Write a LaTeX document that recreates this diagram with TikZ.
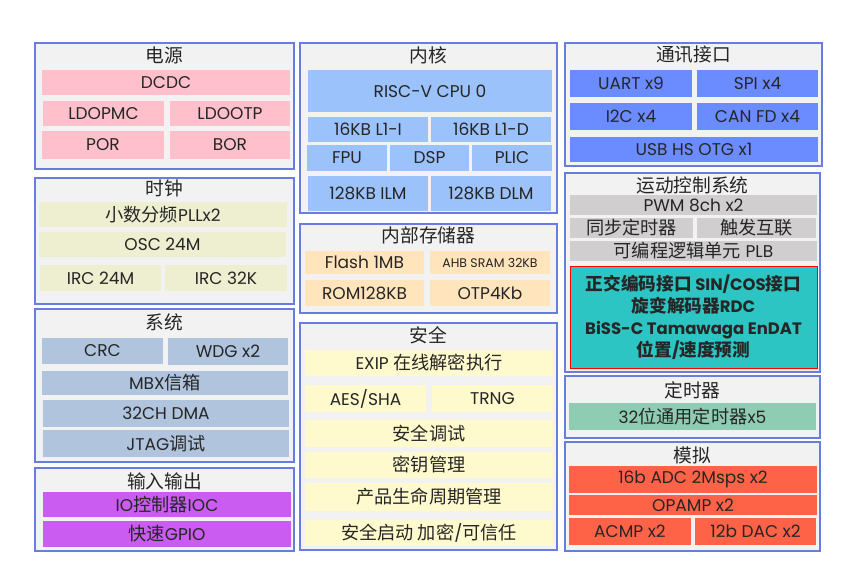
\documentclass[tikz,border=0pt]{standalone}
\usepackage{fontspec}
\setmainfont{Poppins}
\newfontfamily\cjk[Scale=1.07]{Noto Sans CJK SC}
\definecolor{panelbg}{RGB}{242,242,242}
\definecolor{panelbd}{RGB}{105,125,225}
\definecolor{cpink}{RGB}{255,192,203}
\definecolor{ccore}{RGB}{155,194,250}
\definecolor{ccomm}{RGB}{107,140,255}
\definecolor{cclk}{RGB}{238,238,209}
\definecolor{cmem}{RGB}{255,228,188}
\definecolor{csys}{RGB}{176,196,222}
\definecolor{csec}{RGB}{255,250,205}
\definecolor{cio}{RGB}{202,92,242}
\definecolor{cmot}{RGB}{208,206,206}
\definecolor{cteal}{RGB}{45,196,196}
\definecolor{ctim}{RGB}{143,204,180}
\definecolor{cana}{RGB}{255,99,71}
\tikzset{
  panel/.style={draw=panelbd, line width=1.2pt, fill=panelbg, inner sep=0pt, outer sep=0pt},
  cell/.style={inner sep=0pt, outer sep=0pt, text=black!85, font=\fontsize{17}{19}\selectfont},
  ttl/.style={inner sep=0pt, text=black!85, font=\fontsize{17.5}{19}\selectfont}
}
% name, x1, y1, x2, y2, colour, text
\newcommand\mkcell[7]{\node[cell, fill=#6, minimum width={(#4-#2)*1pt}, minimum height={(#5-#3)*1pt}] (#1) at ({(#2+#4)/2},{(#3+#5)/2}) {#7};}
% name, x1, y1, x2, y2, title y, title
\newcommand\mkpanel[7]{\node[panel, minimum width={(#4-#2)*1pt}, minimum height={(#5-#3)*1pt}] (#1) at ({(#2+#4)/2},{(#3+#5)/2}) {};
  \node[ttl] (#1t) at ({(#2+#4)/2},#6) {#7};}
\begin{document}
\begin{tikzpicture}[x=1pt,y=-1pt]
\useasboundingbox (0,0) rectangle (851,577);
\fill[white] (0,0) rectangle (851,577);
% ---------------- left column
\mkpanel{pwr}{35}{43}{294}{169}{55}{\cjk 电源}
\mkcell{dcdc}{42}{70}{290}{95}{cpink}{DCDC}
\mkcell{ldopmc}{43}{101}{164}{126}{cpink}{LDOPMC}
\mkcell{ldootp}{170}{101}{290}{126}{cpink}{LDOOTP}
\mkcell{por}{42}{131}{164}{159}{cpink}{POR}
\mkcell{bor}{170}{131}{290}{159}{cpink}{BOR}

\mkpanel{clk}{35}{178}{294}{304}{188}{\cjk 时钟}
\mkcell{pll}{39}{202}{287}{227}{cclk}{{\cjk 小数分频}PLLx2}
\mkcell{osc}{39}{232}{286}{257}{cclk}{OSC 24M}
\mkcell{irc24}{40}{265}{161}{291}{cclk}{IRC 24M}
\mkcell{irc32}{165}{265}{287}{291}{cclk}{IRC 32K}

\mkpanel{sys}{35}{309}{294}{462}{322}{\cjk 系统}
\mkcell{crc}{42}{338}{163}{364}{csys}{CRC}
\mkcell{wdg}{168}{338}{288}{365}{csys}{WDG x2}
\mkcell{mbx}{42}{371}{288}{395}{csys}{MBX{\cjk 信箱}}
\mkcell{dma}{43}{400}{289}{427}{csys}{32CH DMA}
\mkcell{jtag}{43}{430}{289}{457}{csys}{JTAG{\cjk 调试}}

\mkpanel{io}{35}{468}{294}{551}{481}{\cjk 输入输出}
\mkcell{ioc}{43}{492}{291}{517}{cio}{IO{\cjk 控制器}IOC}
\mkcell{gpio}{43}{521}{291}{547}{cio}{{\cjk 快速}GPIO}
% ---------------- middle column
\mkpanel{core}{300}{43}{557}{213}{55}{\cjk 内核}
\mkcell{cpu}{308}{70}{552}{112}{ccore}{RISC-V CPU 0}
\mkcell{l1i}{308}{117}{428}{142}{ccore}{16KB L1-I}
\mkcell{l1d}{431}{117}{551}{142}{ccore}{16KB L1-D}
\mkcell{fpu}{307}{145}{387}{171}{ccore}{FPU}
\mkcell{dsp}{390}{145}{469}{171}{ccore}{DSP}
\mkcell{plic}{472}{145}{552}{171}{ccore}{PLIC}
\mkcell{ilm}{308}{176}{428}{211}{ccore}{128KB ILM}
\mkcell{dlm}{431}{176}{551}{211}{ccore}{128KB DLM}

\mkpanel{mem}{300}{224}{557}{313}{235}{\cjk 内部存储器}
\mkcell{flash}{305}{251}{424}{274}{cmem}{Flash 1MB}
\mkcell{sram}{430}{251}{550}{274}{cmem}{\fontsize{12.5}{14}\selectfont AHB SRAM 32KB}
\mkcell{rom}{305}{280}{424}{306}{cmem}{ROM128KB}
\mkcell{otp}{430}{280}{550}{306}{cmem}{OTP4Kb}

\mkpanel{sec}{300}{323}{557}{550}{335}{\cjk 安全}
\mkcell{exip}{305}{350}{553}{376}{csec}{EXIP {\cjk 在线解密执行}}
\mkcell{aes}{305}{385}{426}{412}{csec}{AES/SHA}
\mkcell{trng}{432}{385}{553}{412}{csec}{TRNG}
\mkcell{sdbg}{305}{420}{553}{447}{csec}{\cjk 安全调试}
\mkcell{key}{305}{452}{553}{478}{csec}{\cjk 密钥管理}
\mkcell{life}{305}{483}{553}{511}{csec}{\cjk 产品生命周期管理}
\mkcell{boot}{305}{520}{553}{546}{csec}{{\cjk 安全启动 加密}/{\cjk 可信任}}
% ---------------- right column
\mkpanel{comm}{565}{43}{822}{166}{55}{\cjk 通讯接口}
\mkcell{uart}{570}{70}{692}{97}{ccomm}{UART x9}
\mkcell{spi}{697}{70}{818}{97}{ccomm}{SPI x4}
\mkcell{iic}{570}{103}{692}{130}{ccomm}{I2C x4}
\mkcell{can}{697}{103}{818}{130}{ccomm}{CAN FD x4}
\mkcell{usb}{570}{137}{818}{162}{ccomm}{USB HS OTG x1}

\mkpanel{mot}{565}{173}{820}{372}{185}{\cjk 运动控制系统}
\mkcell{pwm}{570}{195}{817}{215}{cmot}{PWM 8ch x2}
\mkcell{sync}{570}{218}{693}{238}{cmot}{\cjk 同步定时器}
\mkcell{trig}{697}{218}{816}{238}{cmot}{\cjk 触发互联}
\mkcell{plb}{570}{241}{817}{261}{cmot}{{\cjk 可编程逻辑单元} PLB}
\node[cell, fill=cteal, draw=red, line width=1pt, minimum width=247pt, minimum height=101pt, align=center,
  font=\fontsize{16.5}{22}\selectfont\bfseries] (enc) at (693.5,317.5)
  {{\cjk\bfseries 正交编码接口} SIN/COS{\cjk\bfseries 接口}\\{\cjk\bfseries 旋变解码器}RDC\\BiSS-C Tamawaga EnDAT\\{\cjk\bfseries 位置}/{\cjk\bfseries 速度预测}};

\mkpanel{tim}{565}{376}{820}{438}{390}{\cjk 定时器}
\mkcell{gpt}{569}{403}{816}{430}{ctim}{32{\cjk 位通用定时器}x5}

\mkpanel{ana}{565}{442}{820}{551}{455}{\cjk 模拟}
\mkcell{adc}{569}{466}{817}{493}{cana}{16b ADC 2Msps x2}
\mkcell{opamp}{569}{495}{817}{515}{cana}{OPAMP x2}
\mkcell{acmp}{569}{518}{691}{545}{cana}{ACMP x2}
\mkcell{dac}{695}{518}{816}{545}{cana}{12b DAC x2}
\end{tikzpicture}
\end{document}
